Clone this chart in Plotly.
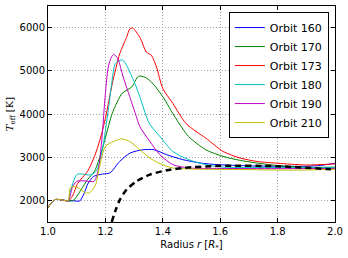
import plotly.graph_objects as go

common_x = [1.0, 1.01, 1.025, 1.05, 1.07]
common_y = [1830, 1930, 2020, 2010, 1990]

o160_x = common_x + [1.09, 1.11, 1.125, 1.14, 1.16, 1.19, 1.216, 1.25, 1.286, 1.33, 1.37, 1.414, 1.47, 1.53, 1.59, 1.70, 1.80, 1.90, 1.95, 2.0]
o160_y = common_y + [1990, 1985, 2150, 2400, 2560, 2610, 2636, 2904, 3096, 3172, 3172, 3057, 2943, 2866, 2828, 2800, 2790, 2790, 2810, 2860]

o170_x = common_x + [1.09, 1.116, 1.138, 1.162, 1.185, 1.20, 1.224, 1.258, 1.292, 1.315, 1.338, 1.36, 1.40, 1.445, 1.49, 1.55, 1.61, 1.67, 1.78, 1.90, 2.0]
o170_y = common_y + [2010, 2253, 2483, 2674, 3096, 3450, 4016, 4476, 4627, 4873, 4850, 4743, 4400, 3900, 3478, 3172, 3018, 2926, 2820, 2766, 2770]

o173_x = common_x + [1.085, 1.104, 1.138, 1.162, 1.181, 1.20, 1.224, 1.25, 1.274, 1.285, 1.295, 1.32, 1.343, 1.36, 1.378, 1.40, 1.435, 1.48, 1.515, 1.55, 1.61, 1.67, 1.73, 1.80, 1.90, 2.0]
o173_y = common_y + [2100, 2400, 2674, 3018, 3402, 3900, 4705, 5395, 5777, 5970, 5990, 5777, 5432, 5360, 5087, 4590, 4245, 3786, 3600, 3441, 3133, 2980, 2900, 2860, 2820, 2845]

o180_x = common_x + [1.08, 1.10, 1.12, 1.15, 1.17, 1.19, 1.21, 1.222, 1.234, 1.25, 1.26, 1.274, 1.285, 1.303, 1.32, 1.343, 1.355, 1.39, 1.435, 1.49, 1.55, 1.61, 1.80, 2.0]
o180_y = common_y + [2250, 2598, 2610, 2590, 2700, 3200, 4092, 4705, 5165, 5241, 5250, 5126, 4972, 4705, 4398, 3938, 3760, 3478, 3133, 2943, 2828, 2770, 2760, 2760]

o190_x = common_x + [1.085, 1.10, 1.13, 1.16, 1.175, 1.19, 1.198, 1.21, 1.221, 1.229, 1.243, 1.262, 1.285, 1.308, 1.32, 1.355, 1.39, 1.435, 1.49, 1.60, 1.80, 2.0]
o190_y = common_y + [2300, 2444, 2450, 2440, 2700, 3600, 4322, 5087, 5317, 5380, 5280, 4857, 4398, 3938, 3708, 3363, 3057, 2828, 2751, 2740, 2735, 2740]

o210_x = common_x + [1.077, 1.09, 1.105, 1.13, 1.145, 1.165, 1.18, 1.20, 1.228, 1.256, 1.285, 1.32, 1.355, 1.39, 1.435, 1.51, 1.66, 1.86, 2.0]
o210_y = common_y + [2292, 2320, 2290, 2180, 2177, 2350, 2800, 3250, 3363, 3425, 3363, 3172, 2981, 2851, 2751, 2725, 2715, 2700, 2720]

dash_x = [1.222, 1.236, 1.251, 1.274, 1.309, 1.355, 1.414, 1.471, 1.60, 1.80, 1.97, 2.0]
dash_y = [1500, 1780, 2023, 2253, 2444, 2598, 2697, 2751, 2800, 2790, 2728, 2720]

series = [
    ("Orbit 160", o160_x, o160_y, "#0000ff"),
    ("Orbit 170", o170_x, o170_y, "#008000"),
    ("Orbit 173", o173_x, o173_y, "#ff0000"),
    ("Orbit 180", o180_x, o180_y, "#00bfbf"),
    ("Orbit 190", o190_x, o190_y, "#bf00bf"),
    ("Orbit 210", o210_x, o210_y, "#bfbf00"),
]

fig = go.Figure()
for name, xs, ys, col in series:
    fig.add_trace(go.Scatter(x=xs, y=ys, mode="lines", name=name,
                             line=dict(color=col, width=1, shape="spline", smoothing=0.7)))
fig.add_trace(go.Scatter(x=dash_x, y=dash_y, mode="lines", showlegend=False,
                         line=dict(color="black", width=2.5, dash="6px,4px", shape="spline", smoothing=0.7)))

axis_common = dict(showline=True, linecolor="black", linewidth=1, mirror="ticks",
                   ticks="inside", ticklen=4, tickcolor="black", automargin=False,
                   showgrid=True, gridcolor="#a0a0a0", griddash="1px,2px", gridwidth=1,
                   zeroline=False, tickfont=dict(family="DejaVu Sans", size=10, color="black"))

fig.update_xaxes(range=[1.0, 2.0], tickvals=[1.0, 1.2, 1.4, 1.6, 1.8, 2.0], tickformat=".1f",
                 title=dict(text="Radius <i>r</i> [<i>R</i><sub>*</sub>]", standoff=4,
                            font=dict(family="DejaVu Sans", size=10, color="black")),
                 **axis_common)
fig.update_yaxes(range=[1500, 6500], tickvals=[2000, 3000, 4000, 5000, 6000],
                 title=dict(text="<i>T</i><sub>eff</sub> [K]", standoff=4,
                            font=dict(family="DejaVu Serif", size=10, color="black")),
                 **axis_common)

fig.update_layout(
    width=348, height=258,
    margin=dict(l=48, r=13, t=6, b=36),
    paper_bgcolor="white", plot_bgcolor="white",
    showlegend=True,
    legend=dict(x=0.63, y=0.972, xanchor="left", yanchor="top",
                bgcolor="white", bordercolor="black", borderwidth=1,
                font=dict(family="DejaVu Sans", size=11, color="black"),
                tracegroupgap=0, itemwidth=30),
)

fig.write_html("out.html", config={"displayModeBar": False},
               post_script="document.body.style.margin='0';document.body.style.padding='0';")
